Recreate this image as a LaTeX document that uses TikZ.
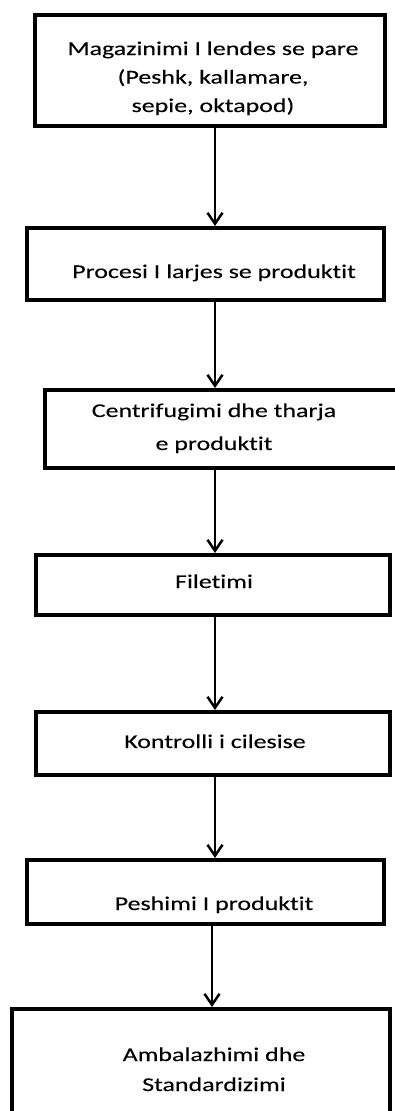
\documentclass[tikz,border=0pt]{standalone}
\usepackage{fontspec}
\setmainfont{Carlito}
\newfontfamily\stepfont[FakeStretch=1.33,FakeBold=0.15,Ligatures=NoCommon]{Carlito}
\usetikzlibrary{arrows.meta}

\begin{document}
\begin{tikzpicture}[x=1pt,y=-1pt,
    stepbox/.style={draw, line width=4pt, inner sep=0pt},
    steptext/.style={align=center, anchor=base, font=\stepfont\fontsize{19.5}{#1}\selectfont},
    steptext/.default=28.5,
    flow/.style={line width=2.5pt, -{Straight Barb[length=11pt,width=15pt]}}]
    \useasboundingbox (0,0) rectangle (394,1111);
    % boxes
    \node[stepbox, minimum width=350pt, minimum height=111pt] (b1) at (210,70.5) {};
    \node[stepbox, minimum width=357pt, minimum height=72pt] (b2) at (205.5,264) {};
    \node[stepbox, minimum width=352pt, minimum height=78pt] (b3) at (221,429) {};
    \node[stepbox, minimum width=354pt, minimum height=60pt] (b4) at (213,585) {};
    \node[stepbox, minimum width=354pt, minimum height=63pt] (b5) at (213,743.5) {};
    \node[stepbox, minimum width=357pt, minimum height=64pt] (b6) at (205.5,892) {};
    \node[stepbox, minimum width=378pt, minimum height=121pt] (b7) at (201,1069.5) {};
    % texts (base = last line)
    \node[steptext] (t1) at (213,112) {Magazinimi I lendes se pare\\(Peshk, kallamare,\\sepie, oktapod)};
    \node[steptext] (t2) at (214,278) {Procesi I larjes se produktit};
    \node[steptext=33] (t3) at (214,450) {Centrifugimi dhe tharja\\e produktit};
    \node[steptext] (t4) at (214,588) {Filetimi};
    \node[steptext] (t5) at (215,748) {Kontrolli i cilesise};
    \node[steptext] (t6) at (214,910) {Peshimi I produktit};
    \node[steptext=30] (t7) at (214,1091) {Ambalazhimi dhe\\Standardizimi};
    % arrows
    \draw[flow] ([xshift=2pt]b1.south -| t1) -- ([xshift=2pt]b2.north -| t1);
    \draw[flow] ([xshift=1pt]b2.south -| t2) -- ([xshift=1pt]b3.north -| t2);
    \draw[flow] ([xshift=1pt]b3.south -| t3) -- ([xshift=1pt]b4.north -| t3);
    \draw[flow] ([xshift=1pt]b4.south -| t4) -- ([xshift=1pt]b5.north -| t4);
    \draw[flow] (b5.south -| t5) -- (b6.north -| t5);
    \draw[flow] ([xshift=-2pt]b6.south -| t6) -- ([xshift=-2pt]b7.north -| t6);
\end{tikzpicture}
\end{document}
